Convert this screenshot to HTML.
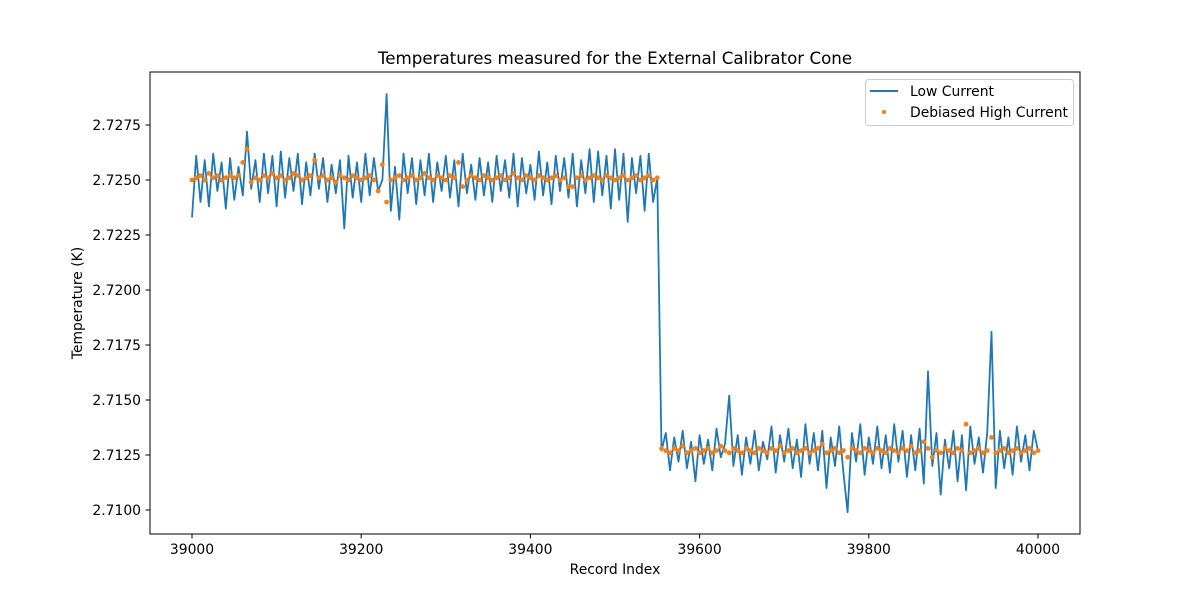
<!DOCTYPE html>
<html><head><meta charset="utf-8"><style>
body{margin:0;background:#fff;}
svg text{font-family:"DejaVu Sans","Liberation Sans",sans-serif;fill:#000;}
</style></head><body>
<svg id="chart" width="1200" height="600" xmlns="http://www.w3.org/2000/svg">
<rect width="1200" height="600" fill="#fff"/>
<text x="615" y="64" font-size="16.7" text-anchor="middle">Temperatures measured for the External Calibrator Cone</text>
<g id="grid"></g>
<g id="series"></g>
<rect x="150" y="72" width="930" height="462" fill="none" stroke="#000" stroke-width="1"/>
<text x="615" y="574" font-size="13.9" text-anchor="middle">Record Index</text>
<text transform="translate(82,303) rotate(-90)" font-size="13.9" text-anchor="middle">Temperature (K)</text>
<g>
<rect x="865.5" y="79.5" width="208" height="46" rx="3" fill="#fff" fill-opacity="0.8" stroke="#ccc"/>
<line x1="870" y1="91" x2="898" y2="91" stroke="#1f77b4" stroke-width="2"/>
<text x="910" y="96" font-size="13.9">Low Current</text>
<circle cx="884" cy="112" r="2" fill="#ff7f0e"/>
<text x="910" y="117" font-size="13.9">Debiased High Current</text>
</g>
</svg>
<script>
const xTicks=[39000,39200,39400,39600,39800,40000];
const yTicks=[2.7100,2.7125,2.7150,2.7175,2.7200,2.7225,2.7250,2.7275];
const startIndex=39000, step=5;
const lowCurrent=[2.7233,
2.7261,2.7240,2.7259,2.7238,2.7262,2.7245,2.7258,2.7237,2.7260,2.7241,
2.7256,2.7243,2.7272,2.7246,2.7259,2.7240,2.7262,2.7244,2.7261,2.7238,
2.7263,2.7242,2.7260,2.7245,2.7262,2.7239,2.7258,2.7243,2.7262,2.7246,
2.7260,2.7240,2.7257,2.7244,2.7259,2.7228,2.7261,2.7242,2.7258,2.7240,
2.7262,2.7243,2.7260,2.7245,2.7250,2.7289,2.7236,2.7256,2.7232,2.7262,
2.7244,2.7260,2.7239,2.7259,2.7243,2.7262,2.7240,2.7258,2.7245,2.7261,
2.7242,2.7259,2.7238,2.7262,2.7244,2.7257,2.7241,2.7260,2.7243,2.7258,
2.7240,2.7261,2.7245,2.7259,2.7242,2.7262,2.7238,2.7260,2.7244,2.7257,
2.7241,2.7263,2.7243,2.7258,2.7239,2.7261,2.7245,2.7260,2.7242,2.7262,
2.7238,2.7259,2.7244,2.7264,2.7240,2.7263,2.7243,2.7261,2.7237,2.7264,
2.7241,2.7262,2.7231,2.7260,2.7244,2.7261,2.7236,2.7262,2.7240,2.7251,
2.7127,2.7135,2.7118,2.7133,2.7122,2.7136,2.7119,2.7131,2.7113,2.7134,
2.7121,2.7132,2.7118,2.7137,2.7124,2.7130,2.7152,2.7120,2.7134,2.7116,
2.7133,2.7121,2.7136,2.7118,2.7131,2.7123,2.7138,2.7117,2.7134,2.7122,
2.7137,2.7119,2.7132,2.7115,2.7139,2.7121,2.7135,2.7118,2.7136,2.7110,
2.7133,2.7120,2.7138,2.7117,2.7099,2.7135,2.7122,2.7139,2.7116,2.7133,
2.7121,2.7138,2.7119,2.7134,2.7117,2.7139,2.7122,2.7136,2.7115,2.7134,
2.7118,2.7137,2.7112,2.7163,2.7120,2.7135,2.7107,2.7132,2.7119,2.7136,
2.7113,2.7134,2.7109,2.7138,2.7121,2.7133,2.7117,2.7135,2.7181,2.7110,
2.7136,2.7119,2.7133,2.7116,2.7138,2.7122,2.7134,2.7118,2.7136,2.7127];
const highDebiased=[2.7250,
2.7251,2.7252,2.7250,2.7253,2.7251,2.7252,2.7250,2.7251,2.7252,2.7251,
2.7252,2.7258,2.7264,2.7249,2.7251,2.7250,2.7252,2.7251,2.7253,2.7251,
2.7252,2.7250,2.7251,2.7253,2.7252,2.7250,2.7251,2.7252,2.7259,2.7251,
2.7252,2.7250,2.7251,2.7249,2.7252,2.7251,2.7250,2.7252,2.7251,2.7250,
2.7251,2.7252,2.7250,2.7245,2.7257,2.7240,2.7250,2.7251,2.7252,2.7250,
2.7251,2.7252,2.7250,2.7251,2.7253,2.7251,2.7250,2.7252,2.7251,2.7250,
2.7252,2.7251,2.7258,2.7247,2.7250,2.7252,2.7251,2.7250,2.7252,2.7251,
2.7250,2.7251,2.7252,2.7250,2.7251,2.7253,2.7251,2.7250,2.7252,2.7251,
2.7250,2.7252,2.7251,2.7250,2.7251,2.7252,2.7250,2.7251,2.7247,2.7247,
2.7251,2.7252,2.7250,2.7251,2.7252,2.7251,2.7250,2.7252,2.7251,2.7250,
2.7251,2.7252,2.7250,2.7251,2.7252,2.7250,2.7251,2.7252,2.7250,2.7251,
2.7128,2.7127,2.7126,2.7128,2.7127,2.7129,2.7126,2.7127,2.7128,2.7126,
2.7127,2.7128,2.7126,2.7127,2.7129,2.7127,2.7126,2.7128,2.7127,2.7126,
2.7128,2.7127,2.7126,2.7128,2.7127,2.7126,2.7128,2.7127,2.7129,2.7126,
2.7127,2.7128,2.7126,2.7127,2.7128,2.7126,2.7127,2.7128,2.7130,2.7126,
2.7127,2.7128,2.7126,2.7127,2.7124,2.7128,2.7127,2.7126,2.7128,2.7127,
2.7126,2.7128,2.7127,2.7126,2.7128,2.7127,2.7126,2.7128,2.7127,2.7129,
2.7126,2.7127,2.7131,2.7128,2.7124,2.7127,2.7126,2.7128,2.7127,2.7126,
2.7128,2.7127,2.7139,2.7126,2.7127,2.7128,2.7126,2.7127,2.7133,2.7126,
2.7127,2.7128,2.7126,2.7127,2.7128,2.7126,2.7127,2.7128,2.7126,2.7127];
const NS='http://www.w3.org/2000/svg';
const xs=v=>192+(v-39000)*0.846;
const ys=v=>125+(2.7275-v)*22000;
const grid=document.getElementById('grid'), ser=document.getElementById('series');
function mk(tag,attrs,parent){const e=document.createElementNS(NS,tag);for(const k in attrs)e.setAttribute(k,attrs[k]);parent.appendChild(e);return e;}
xTicks.forEach(t=>{const x=xs(t);
 const l=mk('line',{x1:x,x2:x,y1:534,y2:538.5,stroke:'#000'},grid);
 
 
 const tx=mk('text',{x:x,y:554,'font-size':13.9,'text-anchor':'middle'},grid);tx.textContent=t;
 
 
});
yTicks.forEach(t=>{const y=ys(t);
 const l=mk('line',{x1:145.5,x2:150,y1:y,y2:y,stroke:'#000'},grid);
 
 
 const tx=mk('text',{x:141,y:y+5,'font-size':13.9,'text-anchor':'end'},grid);tx.textContent=t.toFixed(4);
 
 
});
const pts=lowCurrent.map((v,i)=>xs(startIndex+i*step).toFixed(1)+','+ys(v).toFixed(1)).join(' ');
const pl=mk('polyline',{points:pts,fill:'none',stroke:'#1f77b4','stroke-width':1.8,'stroke-linejoin':'round'},ser);


highDebiased.forEach((v,i)=>{
 const c=mk('circle',{cx:xs(startIndex+i*step),cy:ys(v),r:2.4,fill:'#ff7f0e'},ser);
 
 
});
</script>
</body></html>
